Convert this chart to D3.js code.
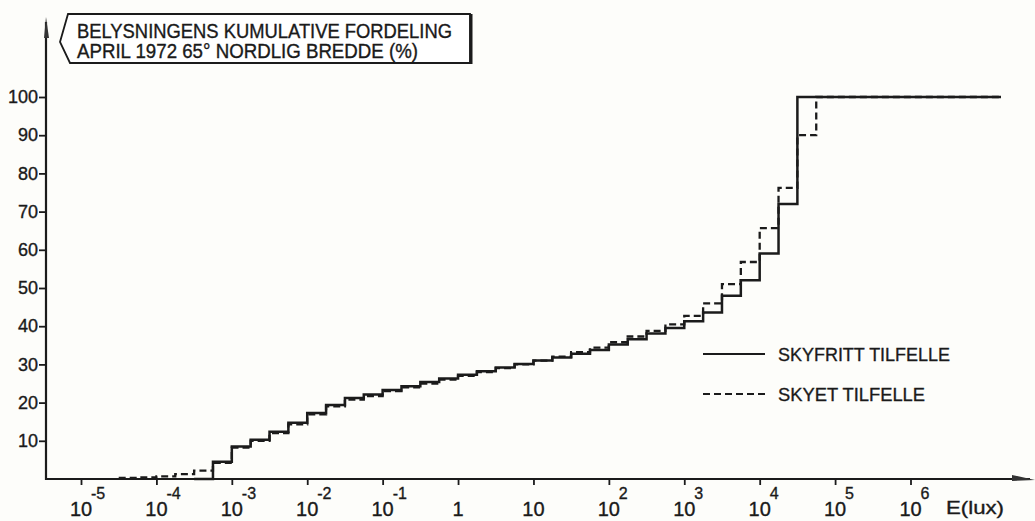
<!DOCTYPE html>
<html><head><meta charset="utf-8">
<script src="https://cdn.jsdelivr.net/npm/d3@7"></script>
<style>
html,body{margin:0;padding:0;background:#fdfdfa;}
svg{display:block;}
text{font-family:"Liberation Sans","DejaVu Sans",sans-serif;fill:#1a1a1a;stroke:#1a1a1a;stroke-width:0.35px;}
</style></head><body>
<svg id="c" width="1035" height="521"></svg>
<script>
// ---- data ----
const titleLines = ["BELYSNINGENS KUMULATIVE FORDELING", "APRIL 1972 65° NORDLIG BREDDE (%)"];
const xTickExp = [-5, -4, -3, -2, -1, 0, 1, 2, 3, 4, 5, 6];
const yTicks = [10, 20, 30, 40, 50, 60, 70, 80, 90, 100];
const xAxisLabel = "E(lux)";
const seriesNames = ["SKYFRITT TILFELLE", "SKYET TILFELLE"];
// illuminance step edges, as log10(lux)
const stepExp = [-4.5, -4.25, -4, -3.75, -3.5, -3.25, -3, -2.75, -2.5, -2.25,
  -2, -1.75, -1.5, -1.25, -1, -0.75, -0.5, -0.25, 0, 0.25,
  0.5, 0.75, 1, 1.25, 1.5, 1.75, 2, 2.25, 2.5, 2.75,
  3, 3.25, 3.5, 3.75, 4, 4.25, 4.5, 4.75, 7.2];
// cumulative percent from each edge onward
const skyfritt = [null, null, null, null, 0, 4.5, 8.5, 10.3, 12.4, 14.7,
  17.3, 19.4, 21.2, 22.1, 23.3, 24.3, 25.4, 26.3, 27.3, 28.2,
  29.2, 30.1, 31.0, 31.8, 32.8, 33.8, 35.2, 36.6, 38.1, 39.5,
  41.3, 43.6, 48.0, 52.0, 59.0, 72.0, 100, 100, 100];
const skyet = [0.3, 0.4, 0.7, 1.3, 2.2, 4.2, 8.2, 10.0, 12.0, 14.3,
  16.9, 19.0, 20.8, 21.7, 23.0, 24.0, 25.0, 26.0, 27.0, 28.0,
  29.0, 30.0, 31.0, 32.0, 33.2, 34.4, 35.8, 37.3, 38.8, 40.5,
  42.7, 46.0, 51.0, 56.8, 65.7, 76.2, 90.0, 100, 100];

// ---- chart ----
const svg = d3.select("#c");
const ink = "#1b1b1b";
const x = d3.scaleLog().domain([1e-5, 1e6]).range([81, 910.5]);
const y = d3.scaleLinear().domain([0, 100]).range([479, 97]);
const axX = 46;

// axes lines + arrows
svg.append("line").attr("x1", axX).attr("x2", 1030).attr("y1", y(0)).attr("y2", y(0))
  .attr("stroke", ink).attr("stroke-width", 2.2);
svg.append("path").attr("d", `M1012,${y(0)-4} L1035,${y(0)+1} L1012,${y(0)+2} Z`).attr("fill", "#333");
svg.append("line").attr("x1", axX).attr("x2", axX).attr("y1", y(0)+1).attr("y2", 22)
  .attr("stroke", ink).attr("stroke-width", 2.2);
svg.append("path").attr("d", `M${axX},17 L${axX+3},38 L${axX-2},38 Z`).attr("fill", "#333");

const gy = svg.append("g").attr("transform", `translate(${axX},0)`)
  .call(d3.axisLeft(y).tickValues(yTicks).tickSize(7).tickPadding(1));
gy.select(".domain").remove();
gy.selectAll(".tick line").attr("stroke", ink).attr("stroke-width", 1.8);
gy.selectAll(".tick text").attr("font-size", 18).attr("fill", ink)
  .style("font-family", "'Liberation Sans',sans-serif");

const gx = svg.append("g").attr("transform", `translate(0,${y(0)})`)
  .call(d3.axisBottom(x).tickValues(xTickExp.map(e => Math.pow(10, e))).tickSize(6).tickFormat(""));
gx.select(".domain").remove();
gx.selectAll(".tick line").attr("stroke", ink).attr("stroke-width", 1.8);

xTickExp.forEach(e => {
  const px = x(Math.pow(10, e));
  const base = e === 0 ? "1" : "10";
  svg.append("text").attr("x", px).attr("y", 516).attr("text-anchor", "middle")
    .attr("font-size", 20).text(base);
  if (e < 0 || e > 1) {
    svg.append("text").attr("x", px + 10).attr("y", 499).attr("font-size", 16)
      .text(String(e));
  }
});
svg.append("text").attr("x", 946).attr("y", 514).attr("font-size", 19)
  .attr("textLength", 58).attr("lengthAdjust", "spacingAndGlyphs").text(xAxisLabel);

// title box
svg.append("path").attr("d", "M68,14 L470,14 L470,63 L70,63 L60,42 Z")
  .attr("fill", "#fff").attr("stroke", ink).attr("stroke-width", 1.8);
svg.append("line").attr("x1", 471).attr("x2", 471).attr("y1", 14).attr("y2", 64)
  .attr("stroke", ink).attr("stroke-width", 3);
svg.append("text").attr("x", 77).attr("y", 38).attr("font-size", 19.5)
  .attr("textLength", 375).attr("lengthAdjust", "spacingAndGlyphs").text(titleLines[0]);
svg.append("text").attr("x", 77).attr("y", 58).attr("font-size", 19.5)
  .attr("textLength", 341).attr("lengthAdjust", "spacingAndGlyphs").text(titleLines[1]);

// series
const line = d3.line().defined(d => d.v !== null)
  .x(d => x(d.E)).y(d => y(d.v)).curve(d3.curveStepAfter);
const mk = arr => stepExp.map((e, i) => ({ E: Math.pow(10, e), v: arr[i] }));
svg.append("path").datum(mk(skyet)).attr("d", line).attr("fill", "none")
  .attr("stroke", ink).attr("stroke-width", 2.3).attr("stroke-dasharray", "7,4");
svg.append("path").datum(mk(skyfritt)).attr("d", line).attr("fill", "none")
  .attr("stroke", ink).attr("stroke-width", 2.5);

// legend
const legY = [354, 394];
const legW = [172, 147];
seriesNames.forEach((n, i) => {
  svg.append("line").attr("x1", 703).attr("x2", 765).attr("y1", legY[i]).attr("y2", legY[i])
    .attr("stroke", ink).attr("stroke-width", 2)
    .attr("stroke-dasharray", i === 1 ? "7,4" : null);
  svg.append("text").attr("x", 778).attr("y", legY[i] + 7).attr("font-size", 19)
    .attr("textLength", legW[i]).attr("lengthAdjust", "spacingAndGlyphs").text(n);
});
</script>
</body></html>
